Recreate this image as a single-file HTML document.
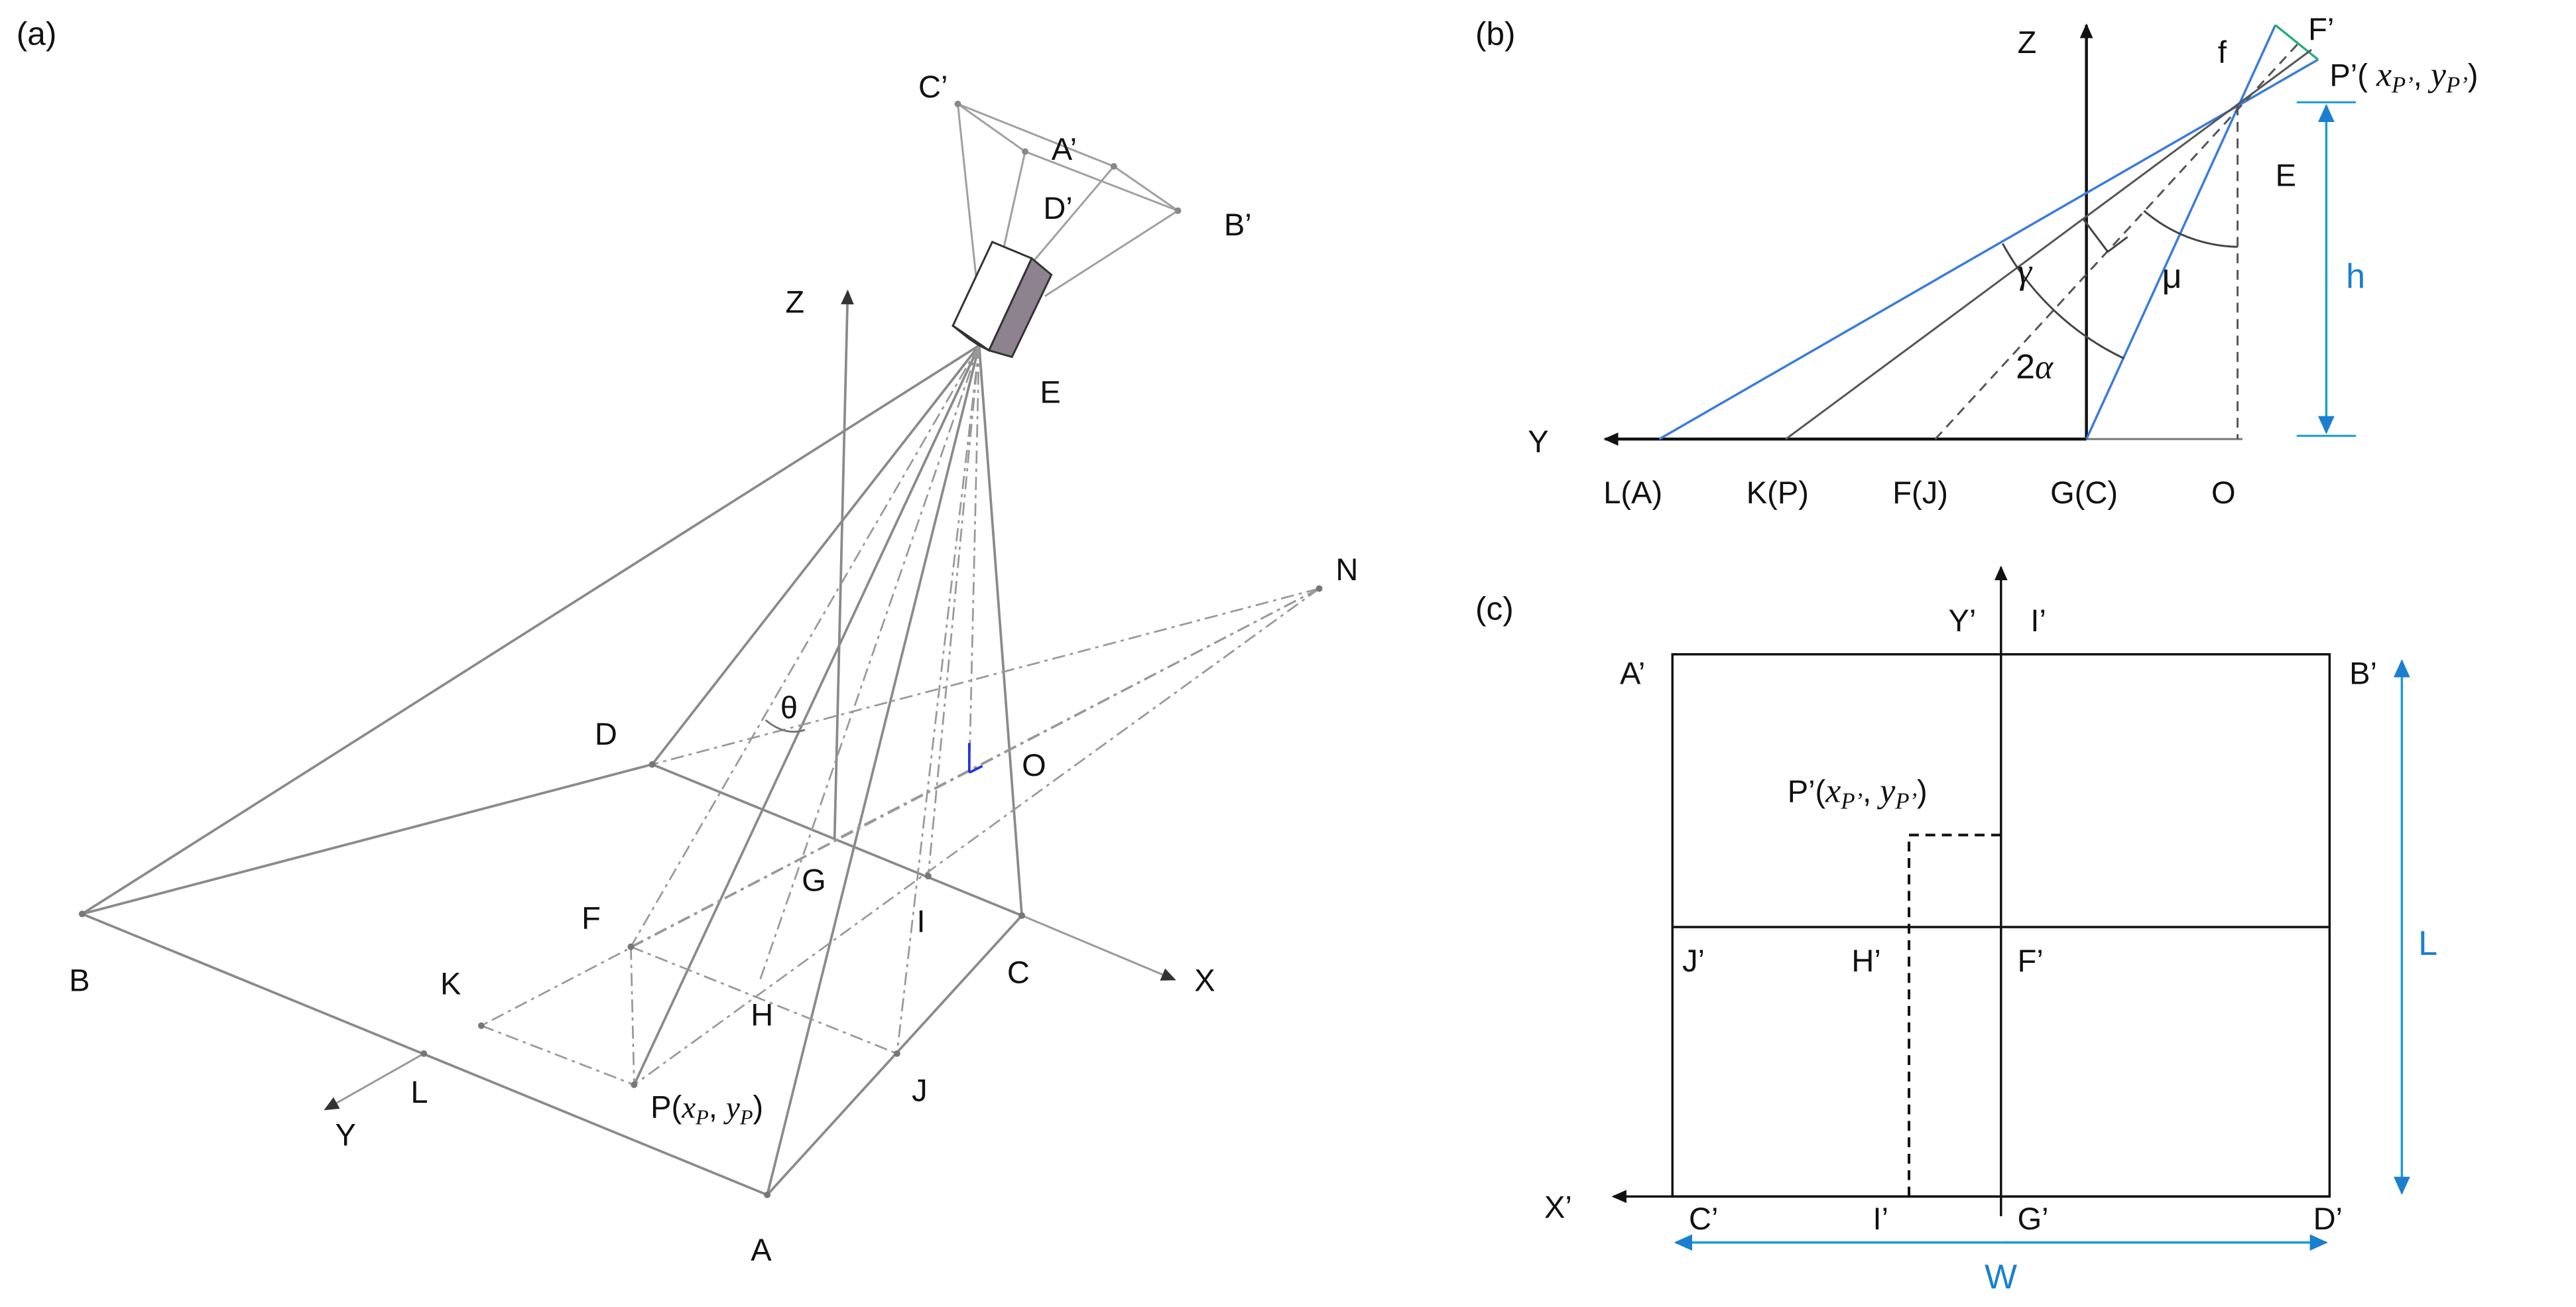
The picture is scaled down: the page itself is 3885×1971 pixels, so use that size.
<!DOCTYPE html>
<html><head><meta charset="utf-8"><style>
html,body{margin:0;padding:0;background:#fff;}
svg{display:block;}
text{font-family:"Liberation Sans",sans-serif;font-size:19px;fill:#111;}
.it{font-family:"Liberation Serif",serif;font-style:italic;}
</style></head><body>
<svg width="3885" height="1971" viewBox="0 0 1568 795" xmlns="http://www.w3.org/2000/svg">
<defs>
<marker id="ab" markerWidth="10" markerHeight="10" refX="8" refY="5" orient="auto" markerUnits="userSpaceOnUse"><path d="M0,1 L9,5 L0,9 Z" fill="#111"/></marker>
<marker id="ag" markerWidth="10" markerHeight="10" refX="8" refY="5" orient="auto" markerUnits="userSpaceOnUse"><path d="M0,1 L9,5 L0,9 Z" fill="#333"/></marker>
<marker id="abl" markerWidth="12" markerHeight="12" refX="10" refY="6" orient="auto" markerUnits="userSpaceOnUse"><path d="M0,1 L11,6 L0,11 Z" fill="#1a7fd0"/></marker>
</defs>

<!-- Panel (a) -->
<text x="10" y="27" style="font-size:20px">(a)</text>
<g stroke="#8a8a8a" stroke-width="1.5" fill="none">
<path d="M50,556 L397,465 L622,557 L467,727 Z"/>
<line x1="622" y1="557" x2="715" y2="596" stroke="#999" stroke-width="1.2" marker-end="url(#ag)"/>
<line x1="258" y1="641" x2="198" y2="675" stroke="#999" stroke-width="1.2" marker-end="url(#ag)"/>
<line x1="596" y1="210" x2="50" y2="556"/>
<line x1="596" y1="210" x2="397" y2="465"/>
<line x1="596" y1="210" x2="622" y2="557"/>
<line x1="596" y1="210" x2="467" y2="727"/>
<line x1="596" y1="210" x2="386" y2="660"/>
<line x1="508" y1="510" x2="516" y2="177" marker-end="url(#ag)"/>
</g>
<g stroke="#999" stroke-width="1.1" fill="none" stroke-dasharray="8,3,2,3">
<line x1="596" y1="210" x2="565" y2="533"/>
<line x1="596" y1="210" x2="590" y2="470"/>
<line x1="596" y1="210" x2="462" y2="598"/>
<line x1="596" y1="210" x2="384" y2="576"/>
<line x1="596" y1="210" x2="546" y2="641"/>
<line x1="803" y1="358" x2="397" y2="465"/>
<line x1="803" y1="358" x2="384" y2="576"/>
<line x1="803" y1="358" x2="293" y2="624"/>
<line x1="803" y1="358" x2="386" y2="660"/>
<line x1="803" y1="358" x2="510" y2="510"/>
<line x1="384" y1="576" x2="546" y2="641"/>
<line x1="293" y1="624" x2="386" y2="660"/>
<line x1="384" y1="576" x2="386" y2="660"/>
</g>
<g fill="#777">
<circle cx="803" cy="358" r="2"/><circle cx="384" cy="576" r="2"/><circle cx="293" cy="624" r="2"/>
<circle cx="386" cy="660" r="2"/><circle cx="546" cy="641" r="2"/><circle cx="565" cy="533" r="2"/>
<circle cx="258" cy="641" r="2"/><circle cx="622" cy="557" r="2"/><circle cx="467" cy="727" r="2"/><circle cx="50" cy="556" r="2"/><circle cx="397" cy="465" r="2"/>
</g>
<line x1="590" y1="470" x2="590" y2="452" stroke="#2233dd" stroke-width="1.5"/>
<line x1="590" y1="470" x2="598" y2="466" stroke="#2233dd" stroke-width="1.5"/>
<path d="M466,438 Q478,448 490,444" stroke="#777" fill="none" stroke-width="1.2"/>
<g stroke="#a0a0a0" stroke-width="1.2" fill="none">
<path d="M583,63 L678,101 L717,128 L624,92 Z"/>
<line x1="583" y1="63" x2="598" y2="205"/>
<line x1="624" y1="92" x2="600" y2="200"/>
<line x1="678" y1="101" x2="628" y2="160"/>
<line x1="717" y1="128" x2="636" y2="180"/>
</g>
<g fill="#888"><circle cx="583" cy="63" r="2"/><circle cx="678" cy="101" r="2"/><circle cx="717" cy="128" r="2"/><circle cx="624" cy="92" r="2"/></g>
<g stroke="#333" stroke-width="1.2">
<polygon points="604,147 628,157 602,213 580,198" fill="#fff"/>
<polygon points="628,157 640,167 616,217 602,213" fill="#8e8290"/>
<polygon points="580,198 602,213 596,210 590,206" fill="#555"/>
</g>
<text x="42" y="603">B</text><text x="362" y="453">D</text><text x="488" y="542">G</text>
<text x="558" y="567">I</text><text x="354" y="565">F</text><text x="268" y="605">K</text>
<text x="457" y="624">H</text><text x="613" y="598">C</text><text x="250" y="671">L</text>
<text x="555" y="670">J</text><text x="457" y="767">A</text><text x="204" y="697">Y</text>
<text x="727" y="603">X</text><text x="813" y="353">N</text><text x="622" y="472">O</text>
<text x="633" y="245">E</text><text x="478" y="190">Z</text><text x="559" y="59">C’</text>
<text x="640" y="97">A’</text><text x="635" y="133">D’</text><text x="745" y="143">B’</text>
<text x="475" y="437">θ</text>
<text x="396" y="680">P(<tspan class="it">x</tspan><tspan class="it" font-size="13" dy="4">P</tspan><tspan dy="-4">, </tspan><tspan class="it">y</tspan><tspan class="it" font-size="13" dy="4">P</tspan><tspan dy="-4">)</tspan></text>

<!-- Panel (b) -->
<text x="898" y="27" style="font-size:20px">(b)</text>
<line x1="1270" y1="267" x2="977" y2="267" stroke="#111" stroke-width="1.8" marker-end="url(#ab)"/>
<line x1="1270" y1="267" x2="1365" y2="267" stroke="#777" stroke-width="1.2"/>
<line x1="1270" y1="267" x2="1270" y2="15" stroke="#111" stroke-width="1.8" marker-end="url(#ab)"/>
<line x1="1010" y1="267" x2="1411" y2="36" stroke="#3a7be0" stroke-width="1.4"/>
<line x1="1270" y1="267" x2="1385" y2="15" stroke="#3a7be0" stroke-width="1.4"/>
<line x1="1385" y1="15" x2="1411" y2="36" stroke="#22b07a" stroke-width="1.4"/>
<line x1="1087" y1="267" x2="1407" y2="30" stroke="#555" stroke-width="1.2"/>
<line x1="1178" y1="267" x2="1400" y2="25" stroke="#555" stroke-width="1.2" stroke-dasharray="6,4"/>
<line x1="1362" y1="64" x2="1362" y2="267" stroke="#555" stroke-width="1.2" stroke-dasharray="6,4"/>
<path d="M1219,148 A165,165 0 0 0 1293,218" stroke="#444" fill="none" stroke-width="1.2"/>
<path d="M1305,128 A90,90 0 0 0 1362,150" stroke="#444" fill="none" stroke-width="1.2"/>
<path d="M1268,133 L1283,153 L1295,144" stroke="#444" fill="none" stroke-width="1.2"/>
<line x1="1398" y1="62" x2="1434" y2="62" stroke="#1a9ad8" stroke-width="1.2"/>
<line x1="1398" y1="265" x2="1434" y2="265" stroke="#1a9ad8" stroke-width="1.2"/>
<line x1="1416" y1="160" x2="1416" y2="64" stroke="#1a9ad8" stroke-width="1.4" marker-end="url(#abl)"/>
<line x1="1416" y1="160" x2="1416" y2="263" stroke="#1a9ad8" stroke-width="1.4" marker-end="url(#abl)"/>
<text x="1228" y="32">Z</text><text x="930" y="275">Y</text>
<text x="976" y="306">L(A)</text><text x="1063" y="306">K(P)</text><text x="1152" y="306">F(J)</text>
<text x="1248" y="306">G(C)</text><text x="1346" y="306">O</text>
<text x="1385" y="113">E</text><text x="1350" y="38">f</text><text x="1405" y="24">F’</text>
<text x="1228" y="172" class="it" style="font-size:22px">γ</text>
<text x="1316" y="175" style="font-size:21px">μ</text>
<text x="1227" y="230" style="font-size:21px">2<tspan class="it">α</tspan></text>
<text x="1428" y="175" style="font-size:21px;fill:#1a7fd0">h</text>
<text x="1418" y="52">P’( <tspan class="it" font-size="21">x</tspan><tspan class="it" font-size="14" dy="4">P’</tspan><tspan dy="-4">, </tspan><tspan class="it" font-size="21">y</tspan><tspan class="it" font-size="14" dy="4">P’</tspan><tspan dy="-4">)</tspan></text>

<!-- Panel (c) -->
<text x="898" y="377" style="font-size:20px">(c)</text>
<rect x="1018" y="398" width="400" height="330" fill="none" stroke="#111" stroke-width="1.4"/>
<line x1="1018" y1="564" x2="1418" y2="564" stroke="#111" stroke-width="1.4"/>
<line x1="1218" y1="740" x2="1218" y2="345" stroke="#111" stroke-width="1.4" marker-end="url(#ab)"/>
<line x1="1418" y1="728" x2="982" y2="728" stroke="#111" stroke-width="1.4" marker-end="url(#ab)"/>
<path d="M1218,508 L1162,508 L1162,728" stroke="#111" fill="none" stroke-width="1.6" stroke-dasharray="6,4"/>
<line x1="1462" y1="564" x2="1462" y2="402" stroke="#1a9ad8" stroke-width="1.4" marker-end="url(#abl)"/>
<line x1="1462" y1="564" x2="1462" y2="726" stroke="#1a9ad8" stroke-width="1.4" marker-end="url(#abl)"/>
<line x1="1218" y1="756" x2="1020" y2="756" stroke="#1a9ad8" stroke-width="1.4" marker-end="url(#abl)"/>
<line x1="1218" y1="756" x2="1416" y2="756" stroke="#1a9ad8" stroke-width="1.4" marker-end="url(#abl)"/>
<text x="986" y="416">A’</text><text x="1430" y="416">B’</text>
<text x="1186" y="384">Y’</text><text x="1236" y="384">I’</text>
<text x="1088" y="488">P’(<tspan class="it" font-size="21">x</tspan><tspan class="it" font-size="14" dy="4">P’</tspan><tspan dy="-4">, </tspan><tspan class="it" font-size="21">y</tspan><tspan class="it" font-size="14" dy="4">P’</tspan><tspan dy="-4">)</tspan></text>
<text x="1024" y="591">J’</text><text x="1127" y="591">H’</text><text x="1228" y="591">F’</text>
<text x="940" y="741">X’</text><text x="1028" y="748">C’</text><text x="1140" y="748">I’</text>
<text x="1228" y="748">G’</text><text x="1408" y="748">D’</text>
<text x="1472" y="581" style="font-size:21px;fill:#1a7fd0">L</text>
<text x="1208" y="784" style="font-size:21px;fill:#1a7fd0">W</text>
</svg>
</body></html>
